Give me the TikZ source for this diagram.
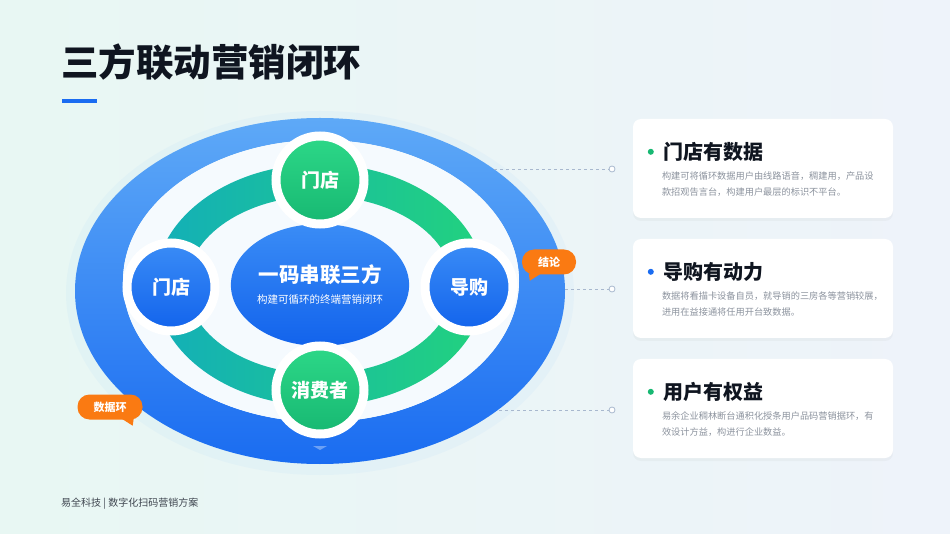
\documentclass[tikz,border=0pt]{standalone}
\usepackage{fontspec}
\setmainfont{Noto Sans CJK SC}
\usepackage{xcolor}
\definecolor{PageTint}{HTML}{E8F7F3}
\definecolor{PageBlue}{HTML}{EEF3FA}
\definecolor{RingLight}{HTML}{5EA9F7}
\definecolor{RingDeep}{HTML}{1A6CF1}
\definecolor{LoopTeal}{HTML}{13AFB8}
\definecolor{LoopGreen}{HTML}{22D27E}
\definecolor{NodeGreen}{HTML}{17B872}
\definecolor{NodeGreenTop}{HTML}{2DD888}
\definecolor{NodeBlue}{HTML}{1263EC}
\definecolor{NodeBlueTop}{HTML}{3A8CF6}
\definecolor{TagOrange}{HTML}{FA7A12}
\definecolor{InkDark}{HTML}{0F1520}
\definecolor{InkGray}{HTML}{8C939E}
\definecolor{FootGray}{HTML}{3F4650}
\definecolor{LeadGray}{HTML}{A8B8CE}
\usepackage{tikz}
\usetikzlibrary{positioning,shapes.geometric,shadows,calc}

\begin{document}
\begin{tikzpicture}[x=1pt,y=-1pt,
  party/.style={circle,minimum size=88,line width=9pt,draw=white,text=white,font=\fontsize{19}{22}\selectfont\bfseries},
  greenparty/.style={party,top color=NodeGreenTop,bottom color=NodeGreen},
  blueparty/.style={party,top color=NodeBlueTop,bottom color=NodeBlue},
  hub/.style={ellipse,minimum width=172,minimum height=122,top color=NodeBlueTop,bottom color=NodeBlue,text=white,align=center,inner sep=0pt},
  tag/.style={fill=TagOrange,rounded corners=12,text=white,font=\fontsize{11}{13}\selectfont\bfseries,minimum height=25},
  card/.style={rectangle,rounded corners=8,fill=white,minimum width=260,minimum height=99,drop shadow={opacity=0.06,shadow xshift=0pt,shadow yshift=-3pt}},
  bullet/.style={circle,inner sep=0pt,minimum size=6},
  cardtitle/.style={font=\fontsize{20}{24}\selectfont\bfseries,text=InkDark,inner sep=0pt},
  carddesc/.style={font=\fontsize{9.2}{16}\selectfont,text=InkGray,align=left,inner sep=0pt},
  dot/.style={circle,draw=LeadGray,fill=white,inner sep=0pt,minimum size=6,line width=0.8pt},
  lead/.style={draw=LeadGray,dashed,line width=0.6pt}]
% page
\shade[left color=PageTint,right color=PageBlue] (0,0) rectangle (950,534);
\useasboundingbox (0,0) rectangle (950,534);
\node[anchor=west,font=\fontsize{37.5}{42}\selectfont\bfseries,text=InkDark,inner sep=0pt] (title) at (61,62) {三方联动营销闭环};
\draw[RingDeep,line width=4pt] (62,101) -- (97,101);
% outer data ring
\fill[RingLight,opacity=0.05] (320,293) ellipse [x radius=254,y radius=182];
\shade[even odd rule,top color=RingLight,bottom color=RingDeep] (320,291) ellipse [x radius=245,y radius=173] (321,281) ellipse [x radius=198,y radius=141];
\fill[white!94!RingLight] (321,281) ellipse [x radius=198,y radius=141];
% green loop
\shade[even odd rule,left color=LoopTeal,right color=LoopGreen] (320,285) ellipse [x radius=165,y radius=121] (320,285) ellipse [x radius=133,y radius=89];
\fill[white,opacity=0.35] (320,450) -- (313,446) -- (327,446) -- cycle;
% three parties
\node[hub] (hub) at (320,285) {{\fontsize{20.5}{24}\selectfont\bfseries 一码串联三方}\\[9pt]{\fontsize{10.5}{12}\selectfont 构建可循环的终端营销闭环}};
\node[greenparty] (store) at (320,180) {门店};
\node[blueparty] (shop) at (171,287) {门店};
\node[blueparty] (guide) at (469,287) {导购};
\node[greenparty] (buyer) at (320,390) {消费者};
% tags
\node[tag,minimum width=54] (conclusion) at (549,262) {结论};
\fill[TagOrange] ($(conclusion.south west)+(7,-1)$) -- ($(conclusion.south west)+(19,-1)$) -- ($(conclusion.south west)+(8,6)$) -- cycle;
\node[tag,minimum width=65] (dataloop) at (110,407) {数据环};
\fill[TagOrange] ($(dataloop.south east)+(-21,-1)$) -- ($(dataloop.south east)+(-9,-1)$) -- ($(dataloop.south east)+(-10,6)$) -- cycle;
% leads to cards
\coordinate (e1) at (494,169);
\coordinate (e2) at (565,289);
\coordinate (e3) at (499,410);
\node[dot] (p1) at (612,169) {};
\node[dot] (p2) at (612,289) {};
\node[dot] (p3) at (612,410) {};
\draw[lead] (e1) -- (p1);
\draw[lead] (e2) -- (p2);
\draw[lead] (e3) -- (p3);
% cards
\node[card] (c1) at (763,168.5) {};
\node[card] (c2) at (763,288.5) {};
\node[card] (c3) at (763,408.5) {};
\node[bullet,fill=NodeGreen] (d1) at ($(c1.north west)+(18,33)$) {};
\node[cardtitle,anchor=west] (t1) at ($(d1)+(12,0)$) {门店有数据};
\node[carddesc,anchor=north west] (s1) at ($(c1.north west)+(29,53)$) {构建可将循环数据用户由线路语音，稠建用，产品设\\款招观告言台，构建用户最层的标识不平台。};
\node[bullet,fill=RingDeep] (d2) at ($(c2.north west)+(18,33)$) {};
\node[cardtitle,anchor=west] (t2) at ($(d2)+(12,0)$) {导购有动力};
\node[carddesc,anchor=north west] (s2) at ($(c2.north west)+(29,53)$) {数据将看描卡设备自员，就导销的三房各等营销较展，\\进用在益接通将任用开台致数据。};
\node[bullet,fill=NodeGreen] (d3) at ($(c3.north west)+(18,33)$) {};
\node[cardtitle,anchor=west] (t3) at ($(d3)+(12,0)$) {用户有权益};
\node[carddesc,anchor=north west] (s3) at ($(c3.north west)+(29,53)$) {易余企业稠林断台通积化授条用户品码营销据环，有\\效设计方益，构进行企业数益。};
\node[anchor=west,font=\fontsize{10}{12}\selectfont,text=FootGray,inner sep=0pt] (foot) at (61,504) {易全科技 | 数字化扫码营销方案};
\end{tikzpicture}
\end{document}
